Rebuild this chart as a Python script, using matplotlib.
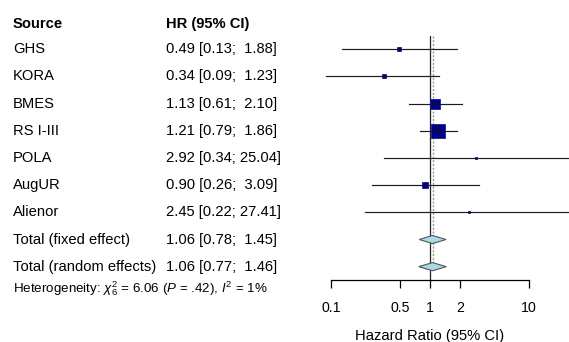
import matplotlib
matplotlib.use("Agg")
import matplotlib.pyplot as plt
import matplotlib.transforms as mtransforms
import numpy as np

plt.rcParams["font.family"] = ["Liberation Sans", "DejaVu Sans"]
plt.rcParams["mathtext.fontset"] = "custom"
plt.rcParams["mathtext.rm"] = "Liberation Sans"
plt.rcParams["mathtext.it"] = "Liberation Sans:italic"

# study level hazard ratios
studies = ["GHS", "KORA", "BMES", "RS I-III", "POLA", "AugUR", "Alienor"]
hr = [0.49, 0.34, 1.13, 1.21, 2.92, 0.90, 2.45]
lo = [0.13, 0.09, 0.61, 0.79, 0.34, 0.26, 0.22]
hi = [1.88, 1.23, 2.10, 1.86, 25.04, 3.09, 27.41]

# pooled estimates
pooled = ["Total (fixed effect)", "Total (random effects)"]
pooled_hr = [1.06, 1.06]
pooled_lo = [0.78, 0.77]
pooled_hi = [1.45, 1.46]

ticks = [0.1, 0.5, 1, 2, 10]
tick_labels = ["0.1", "0.5", "1", "2", "10"]
hetero = r"Heterogeneity: $\chi^2_6$ = 6.06 ($P$ = .42), $I^2$ = 1%"

W, H = 569, 342
fs = 10.6
fig = plt.figure(figsize=(W / 100, H / 100), dpi=100)
ax = fig.add_axes([300 / W, 1 - 280 / H, 269 / W, 244 / H])
ax.set_xscale("log")
ax.set_xlim(10 ** (-130 / 99), 10 ** (139 / 99))
ax.set_ylim(8.49, -0.49)

n = len(studies)
rows = np.arange(n)
prow = np.arange(n, n + len(pooled))

# reference line at 1 and fixed-effect line
ax.axvline(1, color="#222222", lw=0.9, zorder=1)
ax.plot([pooled_hr[0], pooled_hr[0]], [-0.49, prow[-1]], color="#999999",
        lw=1.0, ls=(0, (1.5, 1.2)), zorder=1)

# study boxes, size from inverse standard error
for i in range(n):
    se = (np.log(hi[i]) - np.log(lo[i])) / (2 * 1.96)
    side = 3.27 / se * 0.72
    ax.plot([lo[i], hi[i]], [rows[i], rows[i]], color="#555555", lw=0.9, zorder=2)
    ax.plot(hr[i], rows[i], marker="s", markersize=side, color="#000088",
            markeredgecolor="#1a1aa8", markeredgewidth=0.6, zorder=3)
    ax.plot([lo[i], hi[i]], [rows[i], rows[i]], color="#111111", lw=0.6, zorder=4)
    ax.plot(hr[i], rows[i], marker="|", markersize=side, color="#111111",
            markeredgewidth=0.6, zorder=4)

# pooled diamonds
h = 0.15
for j in range(len(pooled)):
    y = prow[j]
    ax.fill([pooled_lo[j], pooled_hr[j], pooled_hi[j], pooled_hr[j]],
            [y, y - h, y, y + h], facecolor="#add8e6", edgecolor="#555555",
            lw=0.8, zorder=3)

for s in ["top", "right", "left"]:
    ax.spines[s].set_visible(False)
ax.spines["bottom"].set_bounds(0.1, 10)
ax.spines["bottom"].set_linewidth(0.9)
ax.set_yticks([])
ax.set_xticks(ticks)
ax.set_xticklabels(tick_labels)
ax.xaxis.set_minor_locator(matplotlib.ticker.NullLocator())
ax.tick_params(axis="x", length=5.8, width=0.9, pad=9.5, labelsize=10.2)
ax.set_xlabel("Hazard Ratio (95% CI)", fontsize=10.6)
ax.xaxis.label.set_va("center")
ax.xaxis.set_label_coords(1.313 / 2.717, -56 / 244)

# table text
tr = mtransforms.blended_transform_factory(fig.transFigure, ax.transData)
x1, x2 = 13 / W, 166 / W
ax.text(x1, -0.92, "Source", transform=tr, fontsize=fs, fontweight="bold",
        va="center", clip_on=False)
ax.text(x2, -0.92, "HR (95% CI)", transform=tr, fontsize=fs, fontweight="bold",
        va="center", clip_on=False)
labels = studies + pooled
ests = list(zip(hr, lo, hi)) + list(zip(pooled_hr, pooled_lo, pooled_hi))
for k, (lab, (e, l, u)) in enumerate(zip(labels, ests)):
    ax.text(x1, k, lab, transform=tr, fontsize=fs, va="center", clip_on=False)
    ax.text(x2, k, f"{e:.2f} [{l:.2f}; {u:5.2f}]", transform=tr, fontsize=fs,
            va="center", clip_on=False)
ax.text(x1, 8.8, hetero, transform=tr, fontsize=9.6, va="center", clip_on=False)

fig.savefig("out.png", dpi=100)
